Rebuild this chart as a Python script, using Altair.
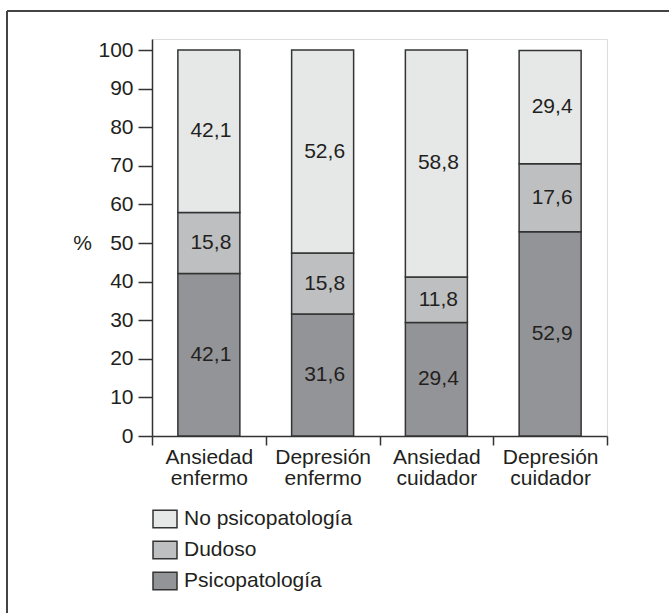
import altair as alt
import pandas as pd

# Source values (%)
categories = ["Ansiedad enfermo", "Depresión enfermo", "Ansiedad cuidador", "Depresión cuidador"]
psicopatologia = [42.1, 31.6, 29.4, 52.9]
dudoso = [15.8, 15.8, 11.8, 17.6]
no_psicopatologia = [42.1, 52.6, 58.8, 29.4]
y_ticks = [0, 10, 20, 30, 40, 50, 60, 70, 80, 90, 100]

groups = ["Psicopatología", "Dudoso", "No psicopatología"]
legend_order = ["No psicopatología", "Dudoso", "Psicopatología"]
fills = ["#e6e7e7", "#bebfc1", "#939497"]

rows = []
for i, cat in enumerate(categories):
    base = 0.0
    for g, vals in zip(groups, [psicopatologia, dudoso, no_psicopatologia]):
        v = vals[i]
        rows.append({
            "cat": cat,
            "grupo": g,
            "valor": v,
            "y0": base,
            "y1": base + v,
            "mid": base + v / 2,
            "etiqueta": f"{v:.1f}".replace(".", ","),
        })
        base += v
df = pd.DataFrame(rows)

FONT = "Liberation Sans"
FS = 21
INK = "#231f20"
LINE = "#333333"

x_enc = alt.X(
    "cat:N",
    sort=categories,
    scale=alt.Scale(paddingInner=0, paddingOuter=0),
    axis=alt.Axis(
        title=None,
        labelAngle=0,
        tickBand="extent",
        tickSize=9,
        labelPadding=1,
        labelFontSize=FS,
        labelLineHeight=21,
        labelExpr="split(datum.label, ' ')",
        labelColor=INK,
        labelFont=FONT,
        domainColor=LINE,
        tickColor=LINE,
        domainWidth=1.5,
        tickWidth=1.5,
    ),
)

bars = alt.Chart(df).mark_bar(size=62, stroke=LINE, strokeWidth=1.5).encode(
    x=x_enc,
    y=alt.Y(
        "y0:Q",
        scale=alt.Scale(domain=[0, 102.85], nice=False),
        axis=alt.Axis(
            values=y_ticks,
            tickCount=11,
            labelOverlap=False,
            labelFlush=False,
            title="%",
            titleAngle=0,
            titleX=-70,
            titleY=204,
            titleAlign="center",
            titleBaseline="middle",
            titleFontSize=FS,
            titleFontWeight="normal",
            titleFont=FONT,
            titleColor=INK,
            tickSize=14,
            labelPadding=5,
            labelFontSize=FS,
            labelFont=FONT,
            labelColor=INK,
            grid=False,
            domainColor=LINE,
            tickColor=LINE,
            domainWidth=1.5,
            tickWidth=1.5,
        ),
    ),
    y2="y1:Q",
    color=alt.Color(
        "grupo:N",
        scale=alt.Scale(domain=legend_order, range=fills),
        legend=alt.Legend(
            title=None,
            orient="none",
            legendX=0,
            legendY=467,
            direction="vertical",
            symbolType="M-1,-0.72H1V0.72H-1Z",
            symbolSize=576,
            symbolOpacity=1,
            symbolStrokeColor=LINE,
            symbolStrokeWidth=1.5,
            labelFontSize=FS,
            labelFont=FONT,
            labelColor=INK,
            labelOffset=6,
            labelLimit=400,
            rowPadding=6,
        ),
    ),
)

texts = alt.Chart(df).mark_text(
    fontSize=FS, font=FONT, color=INK, baseline="middle", dx=2
).encode(
    x=alt.X("cat:N", sort=categories),
    y="mid:Q",
    text="etiqueta:N",
)

one = pd.DataFrame({"k": [0]})
frame_top = alt.Chart(one).mark_rule(color="#444444", strokeWidth=2).encode(
    x=alt.value(-145), x2=alt.value(517), y=alt.value(-28)
)
frame_left = alt.Chart(one).mark_rule(color="#444444", strokeWidth=2).encode(
    x=alt.value(-145), y=alt.value(-28), y2=alt.value(574)
)

chart = alt.layer(bars, texts, frame_top, frame_left).properties(
    width=455,
    height=397,
    autosize="none",
    padding={"left": 152, "top": 39, "right": 62, "bottom": 177},
).configure_view(stroke=None).configure(background="white")

chart.save("out.html", embed_options={"renderer": "svg", "actions": False})
